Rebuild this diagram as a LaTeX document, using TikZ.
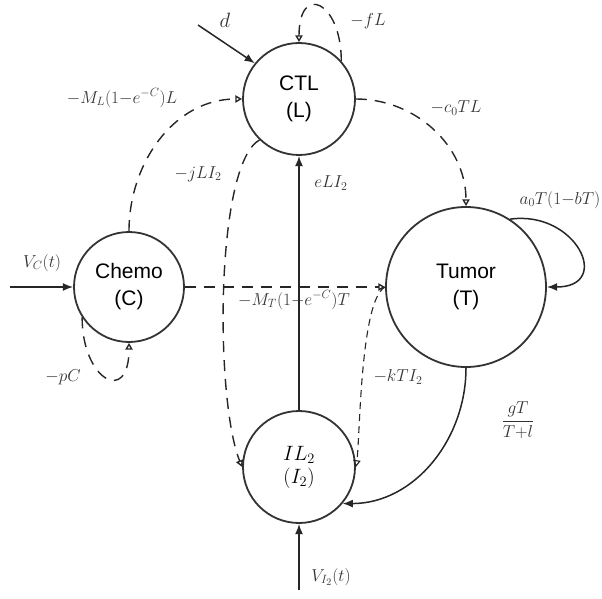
\documentclass[tikz,border=0pt]{standalone}
\usepackage{amsmath}
\usepackage{fontspec}
\setsansfont{Liberation Sans}
\usetikzlibrary{arrows.meta}

\begin{document}
\begin{tikzpicture}[x=1pt,y=1pt,
  comp/.style={circle,draw=black!80,line width=1.8pt,align=center,inner sep=0pt,
               font=\sffamily\fontsize{21}{27}\selectfont},
  feed/.style={-{Latex[length=3.6mm,width=2.8mm]},line width=1.5pt,black!85},
  loss/.style={-{Triangle[open,length=2.4mm,width=2.6mm]},line width=1.4pt,black!85,
               dash pattern=on 11pt off 8pt},
  lossfine/.style={loss,dash pattern=on 7pt off 5pt,line width=1.1pt},
  lbl/.style={font=\LARGE,text=black!80,inner sep=1pt}]
\useasboundingbox (0,0) rectangle (602,598);
% compartments
\node[comp,minimum size=112pt] (ctl)   at (299,499) {CTL\\(L)};
\node[comp,minimum size=110pt] (chemo) at (129,311) {Chemo\\(C)};
\node[comp,minimum size=160pt] (tumor) at (466,311) {Tumor\\(T)};
\node[comp,minimum size=112pt,font=\huge] (ilii) at (299,131)
  {$IL_2$\\[-2pt]$(I_2)$};
% inputs
\coordinate (din)  at (198,573);
\coordinate (vcin) at (10,311);
\coordinate (viin) at (299,8);
\draw[feed] (din) -- (ctl.141);
\draw[feed] (vcin) -- (chemo);
\draw[feed] (viin) -- (ilii);
% interactions
\draw[feed] (ilii) -- (ctl);
\draw[loss] (chemo) -- (tumor);
\draw[loss] (ctl.east) to[out=0,in=90] (tumor.north);
\draw[loss] (chemo.north) to[out=90,in=180] (ctl.west);
\draw[loss] (ctl.226) .. controls (215,433) and (215,198) .. (ilii.west);
\draw[lossfine] (tumor.west) .. controls (360,298) and (360,158) .. (ilii.east);
\draw[feed] (tumor.south) to[out=-90,in=0] (ilii.-40);
\draw[feed] (tumor.57) to[out=8,in=0,looseness=2.2] (tumor.east);
\draw[loss] (ctl.42) to[out=90,in=90,looseness=3.3] (ctl.north);
\draw[loss] (chemo.213) to[out=-90,in=-90,looseness=3] (chemo.south);
% rates
\node[lbl,font=\huge] (ld) at (225,578) {$d$};
\node[lbl] (lVC)  at (42,335)  {$V_C(t)$};
\node[lbl] (lVI)  at (331,21)  {$V_{I_2}(t)$};
\node[lbl] (lML)  at (122,500) {$-M_L(1{-}e^{-C})L$};
\node[lbl] (ljLI) at (198,424) {$-jLI_2$};
\node[lbl] (leLI) at (331,415) {$eLI_2$};
\node[lbl] (lcTL) at (456,490) {$-c_0TL$};
\node[lbl] (lfL)  at (368,577) {$-fL$};
\node[lbl] (la0T) at (560,398) {$a_0T(1{-}bT)$};
\node[lbl] (lpC)  at (63,221)  {$-pC$};
\node[lbl] (lMT)  at (294,298) {$-M_T(1{-}e^{-C})T$};
\node[lbl] (lkTI) at (398,221) {$-kTI_2$};
\node[lbl] (lgT)  at (518,178) {$\dfrac{gT}{T{+}l}$};
\end{tikzpicture}
\end{document}
